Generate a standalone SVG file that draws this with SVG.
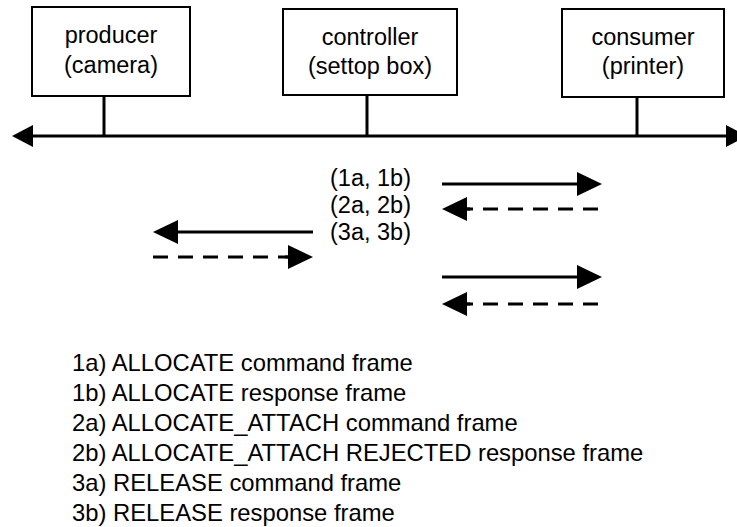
<svg xmlns="http://www.w3.org/2000/svg" width="737" height="527" viewBox="0 0 737 527">
  <style>
    text { font-family: "Liberation Sans", Arial, sans-serif; font-size: 23.5px; fill: #000; }
    .box { fill: #fff; stroke: #000; stroke-width: 2; }
    .ctr { text-anchor: middle; }
    .wire { fill: none; stroke: #000; stroke-width: 3; }
    .dash { stroke-dasharray: 15 10; }
    .legend text { font-size: 23.8px; }
  </style>
  <defs>
    <!-- filled head for the message arrows -->
    <marker id="head" markerUnits="userSpaceOnUse" markerWidth="25" markerHeight="24" refX="0" refY="12" orient="auto" overflow="visible">
      <path d="M0,0 L25,12 L0,24 Z" fill="#000"/>
    </marker>
    <!-- head for both ends of the bus line -->
    <marker id="bushead" markerUnits="userSpaceOnUse" markerWidth="21" markerHeight="22" refX="0" refY="11" orient="auto-start-reverse" overflow="visible">
      <path d="M0,0 L21,11 L0,22 Z" fill="#000"/>
    </marker>
  </defs>

  <rect width="737" height="527" fill="#fff"/>

  <!-- devices -->
  <g id="producer">
    <rect class="box" x="32" y="7" width="158" height="89"/>
    <text class="ctr" x="111" y="43">producer</text>
    <text class="ctr" x="111" y="73">(camera)</text>
  </g>
  <g id="controller">
    <rect class="box" x="283" y="9" width="174" height="86"/>
    <text class="ctr" x="370" y="45">controller</text>
    <text class="ctr" x="370" y="74">(settop box)</text>
  </g>
  <g id="consumer">
    <rect class="box" x="562" y="9" width="162" height="88"/>
    <text class="ctr" x="643" y="45">consumer</text>
    <text class="ctr" x="643" y="74">(printer)</text>
  </g>

  <!-- bus, drops and message arrows -->
  <g id="connectors">
    <line class="wire" x1="104" y1="96" x2="104" y2="137"/>
    <line class="wire" x1="367" y1="95" x2="367" y2="137"/>
    <line class="wire" x1="637" y1="97" x2="637" y2="137"/>
    <path class="wire" d="M33,136 H726" marker-start="url(#bushead)" marker-end="url(#bushead)"/>

    <!-- 1a/1b and 2a/2b: controller <-> consumer -->
    <path class="wire" d="M442,184 H577" marker-end="url(#head)"/>
    <path class="wire dash" d="M458,209 H602"/>
    <path class="wire" d="M470,209 H467" marker-end="url(#head)"/>

    <!-- 3a/3b: controller <-> producer -->
    <path class="wire" d="M313,232 H178" marker-end="url(#head)"/>
    <path class="wire dash" d="M153,257 H290"/>
    <path class="wire" d="M285,257 H288" marker-end="url(#head)"/>

    <path class="wire" d="M442,277 H577" marker-end="url(#head)"/>
    <path class="wire dash" d="M458,304 H602"/>
    <path class="wire" d="M470,304 H467" marker-end="url(#head)"/>
  </g>

  <g id="step-labels">
    <text x="330" y="186">(1a, 1b)</text>
    <text x="330" y="213">(2a, 2b)</text>
    <text x="330" y="240">(3a, 3b)</text>
  </g>

  <g id="legend" class="legend">
    <text x="72" y="371">1a) ALLOCATE command frame</text>
    <text x="72" y="401">1b) ALLOCATE response frame</text>
    <text x="72" y="431">2a) ALLOCATE_ATTACH command frame</text>
    <text x="72" y="461">2b) ALLOCATE_ATTACH REJECTED response frame</text>
    <text x="72" y="491">3a) RELEASE command frame</text>
    <text x="72" y="521">3b) RELEASE response frame</text>
  </g>
</svg>
